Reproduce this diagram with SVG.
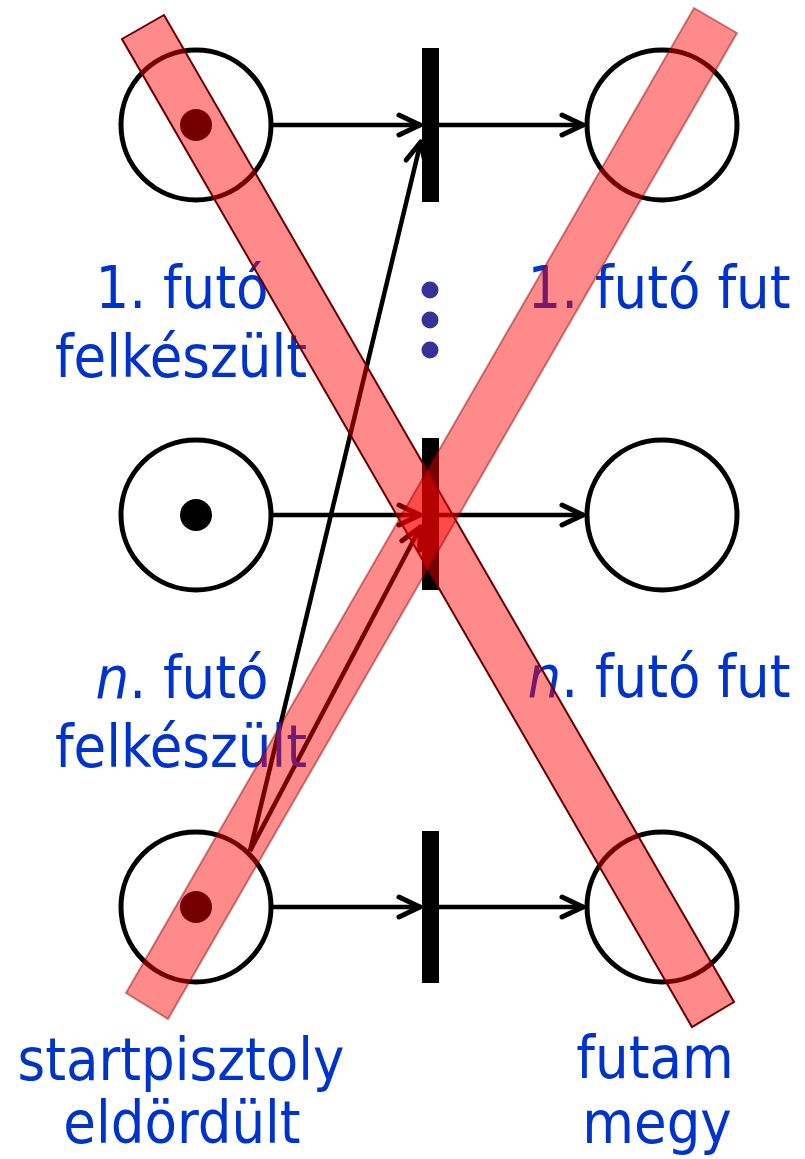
<svg xmlns="http://www.w3.org/2000/svg" width="805" height="1159" viewBox="0 0 805 1159">
<style>
.place{fill:#fff;stroke:#000;stroke-width:5}
.token{fill:#000}
.bar{fill:#000}
.arc{stroke:#000;stroke-width:4.5;fill:none}
.lbl{font-family:"DejaVu Sans Condensed","DejaVu Sans",sans-serif;font-size:59px;fill:#0033cc;text-anchor:middle}
.dot{fill:#333399}
</style>
<defs>
<marker id="ah" markerUnits="userSpaceOnUse" markerWidth="40" markerHeight="40" viewBox="-30 -20 40 40" refX="0" refY="0" orient="auto" overflow="visible">
<path d="M-22,-10 L-1,0 L-22,10" fill="none" stroke="#000" stroke-width="5" stroke-linecap="round" stroke-linejoin="round"/>
</marker>
</defs>
<rect width="805" height="1159" fill="#fff"/>
<g id="p1ready"><circle class="place" cx="196" cy="125" r="75"/><circle class="token" cx="196" cy="125" r="16"/></g>
<g id="pnready"><circle class="place" cx="196" cy="515" r="75"/><circle class="token" cx="196" cy="515" r="16"/></g>
<g id="pstart"><circle class="place" cx="196" cy="907" r="75"/><circle class="token" cx="196" cy="907" r="16"/></g>
<g id="p1run"><circle class="place" cx="662" cy="125" r="75"/></g>
<g id="pnrun"><circle class="place" cx="662" cy="515" r="75"/></g>
<g id="prace"><circle class="place" cx="662" cy="907" r="75"/></g>
<g id="t1"><rect class="bar" x="422" y="48" width="17" height="154"/></g>
<g id="tn"><rect class="bar" x="422" y="438" width="17" height="152"/></g>
<g id="tr"><rect class="bar" x="422" y="831" width="17" height="152"/></g>
<g id="ellipsis"><circle class="dot" cx="430" cy="290" r="8.5"/><circle class="dot" cx="430" cy="320" r="8.5"/><circle class="dot" cx="430" cy="350" r="8.5"/></g>
<g id="connectors">
<line class="arc" x1="273" y1="125" x2="421" y2="125" marker-end="url(#ah)"/>
<line class="arc" x1="439" y1="125" x2="584" y2="125" marker-end="url(#ah)"/>
<line class="arc" x1="273" y1="515" x2="421" y2="515" marker-end="url(#ah)"/>
<line class="arc" x1="439" y1="515" x2="584" y2="515" marker-end="url(#ah)"/>
<line class="arc" x1="273" y1="907" x2="421" y2="907" marker-end="url(#ah)"/>
<line class="arc" x1="439" y1="907" x2="584" y2="907" marker-end="url(#ah)"/>
<line class="arc" x1="250" y1="851" x2="421" y2="141" marker-end="url(#ah)"/>
<line class="arc" x1="250" y1="851" x2="421" y2="526" marker-end="url(#ah)"/>
</g>
<g id="labels">
<text class="lbl" x="182" y="308">1. futó</text>
<text class="lbl" x="181" y="377">felkészült</text>
<text class="lbl" x="182" y="698"><tspan font-style="italic">n</tspan>. futó</text>
<text class="lbl" x="181" y="767">felkészült</text>
<text class="lbl" x="181" y="1080">startpisztoly</text>
<text class="lbl" x="182" y="1143">eldördült</text>
<text class="lbl" x="659" y="308">1. futó fut</text>
<text class="lbl" x="659" y="697"><tspan font-style="italic">n</tspan>. futó fut</text>
<text class="lbl" x="655" y="1078">futam</text>
<text class="lbl" x="657" y="1143">megy</text>
</g>
<g id="cross">
<polygon points="122,39 164,15 734,1002 692,1027" fill="#ff0000" fill-opacity="0.46" stroke="#660000" stroke-width="2"/>
<polygon points="694,8 737,33 168,1019 126,993" fill="#ff0000" fill-opacity="0.46" stroke="#800000" stroke-opacity="0.45" stroke-width="2"/>
</g>
</svg>
